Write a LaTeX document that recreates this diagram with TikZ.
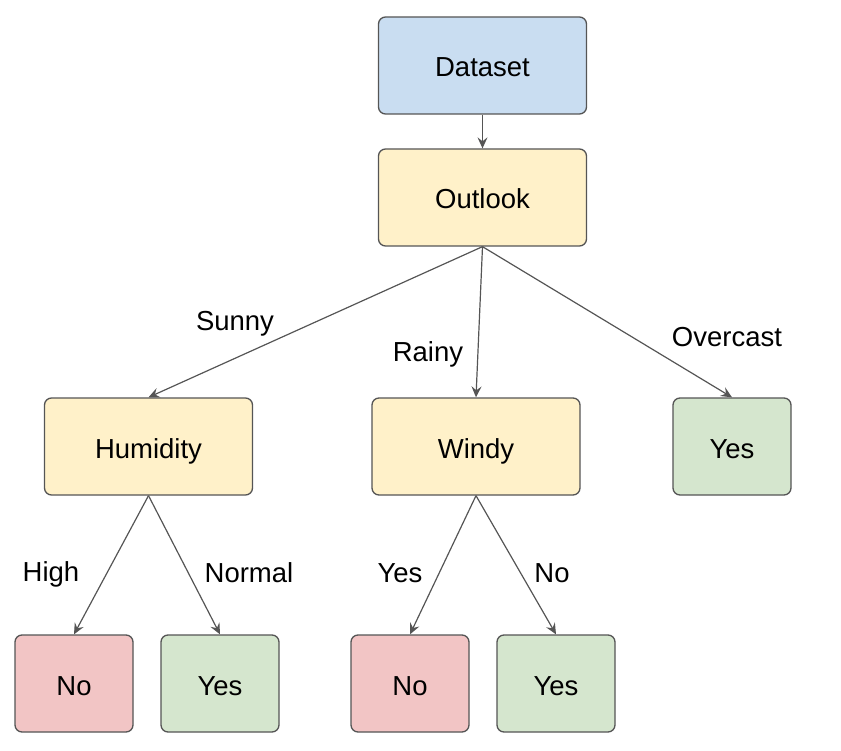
\documentclass[tikz,border=0pt]{standalone}
\usepackage{fontspec}
\setmainfont{Liberation Sans}
\usetikzlibrary{arrows.meta}
\definecolor{cblue}{HTML}{C9DDF1}
\definecolor{cyellow}{HTML}{FFF1C9}
\definecolor{cgreen}{HTML}{D5E6CE}
\definecolor{cred}{HTML}{F2C5C5}
\definecolor{cline}{HTML}{555555}
\begin{document}
\begin{tikzpicture}[x=1pt,y=-1pt,
  box/.style={draw=cline, line width=1.3pt, rounded corners=7pt, inner sep=0pt,
    font=\fontsize{27.5}{30}\selectfont, text=black, text depth=0pt, text height=23pt},
  wide/.style={box, minimum width=208pt, minimum height=97pt},
  small/.style={box, minimum width=118pt, minimum height=97pt},
  conn/.style={draw=cline, line width=1.2pt, -{Stealth[length=11pt,width=10pt,inset=4pt]}},
  lbl/.style={font=\fontsize{27.5}{30}\selectfont, text=black}
]
\useasboundingbox (0,0) rectangle (841,751);
\node[wide, fill=cblue] (ds) at (482.5,65.5) {Dataset};
\node[wide, fill=cyellow] (ol) at (482.5,197.5) {Outlook};
\node[wide, fill=cyellow] (hu) at (148.5,446.5) {Humidity};
\node[wide, fill=cyellow] (wi) at (476,446.5) {Windy};
\node[small, fill=cgreen] (y1) at (732,446.5) {Yes};
\node[small, fill=cred] (n1) at (74,683.5) {No};
\node[small, fill=cgreen] (y2) at (220,683.5) {Yes};
\node[small, fill=cred] (n2) at (410,683.5) {No};
\node[small, fill=cgreen] (y3) at (556,683.5) {Yes};
\draw[conn] (ds.south) -- (ol.north);
\draw[conn] (ol.south) -- (hu.north);
\draw[conn] (ol.south) -- (wi.north);
\draw[conn] (ol.south) -- (y1.north);
\draw[conn] (hu.south) -- (n1.north);
\draw[conn] (hu.south) -- (y2.north);
\draw[conn] (wi.south) -- (n2.north);
\draw[conn] (wi.south) -- (y3.north);
\node[lbl] (lsunny) at (235,324) {Sunny};
\node[lbl] (lrainy) at (428,354) {Rainy};
\node[lbl] (lover) at (727,337) {Overcast};
\node[lbl] (lhigh) at (51,574) {High};
\node[lbl] (lnorm) at (249,573) {Normal};
\node[lbl] (lyes) at (400,573) {Yes};
\node[lbl] (lno) at (552,573) {No};
\end{tikzpicture}
\end{document}
